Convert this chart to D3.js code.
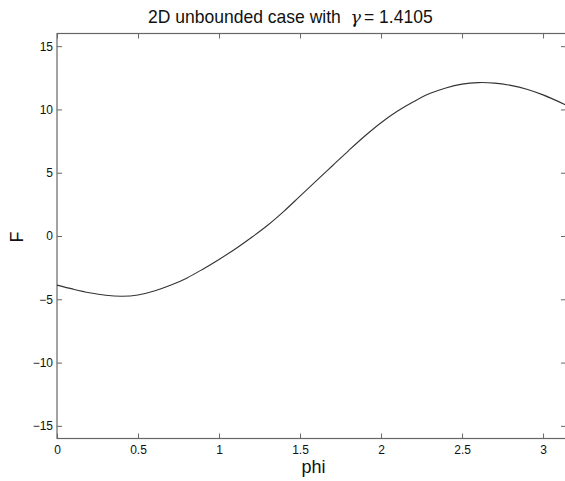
<!DOCTYPE html>
<html>
<head>
<meta charset="utf-8">
<script src="https://cdn.jsdelivr.net/npm/d3@7"></script>
<style>
  body { margin: 0; background: #fff; }
  text { font-family: "Liberation Sans", Arial, sans-serif; fill: #111; }
</style>
</head>
<body>
<div id="chart"></div>
<script>
// values
const phi = [0, 0.1, 0.2, 0.3, 0.4, 0.5, 0.6, 0.7, 0.8, 0.9, 1.0, 1.1, 1.2, 1.3, 1.4, 1.5,
             1.6, 1.7, 1.8, 1.9, 2.0, 2.1, 2.2, 2.3, 2.4, 2.5, 2.6, 2.7, 2.8, 2.9, 3.0, Math.PI]
const F = [-3.88, -4.2, -4.48, -4.68, -4.76, -4.66, -4.35, -3.9, -3.33, -2.62, -1.85, -1.03,
           -0.12, 0.85, 1.95, 3.15, 4.35, 5.55, 6.75, 7.9, 8.95, 9.85, 10.6, 11.25, 11.7,
           12.0, 12.12, 12.08, 11.9, 11.6, 11.15, 10.35]
const xTicks = [0, 0.5, 1, 1.5, 2, 2.5, 3]
const yTicks = [-15, -10, -5, 0, 5, 10, 15]

const width = 565, height = 481
const mLeft = 57, mRight = 566, mTop = 33.5, mBottom = 438.5

const svg = d3.select("#chart").append("svg")
    .attr("width", width)
    .attr("height", height)

const x = d3.scaleLinear().domain([0, Math.PI]).range([mLeft, mRight])
const y = d3.scaleLinear().domain([-16, 16]).range([mBottom, mTop])

const fmt = d => (d < 0 ? "\u2212" + Math.abs(d) : "" + d)

// ticks inward on all four sides, like matlab
svg.append("g")
    .attr("transform", `translate(0,${mBottom})`)
    .call(d3.axisBottom(x).tickValues(xTicks).tickSizeInner(-5).tickSizeOuter(0).tickPadding(7).tickFormat(fmt))
    .call(g => g.select(".domain").remove())
svg.append("g")
    .attr("transform", `translate(0,${mTop})`)
    .call(d3.axisTop(x).tickValues(xTicks).tickSizeInner(-5).tickSizeOuter(0).tickFormat(""))
    .call(g => g.select(".domain").remove())
svg.append("g")
    .attr("transform", `translate(${mLeft},0)`)
    .call(d3.axisLeft(y).tickValues(yTicks).tickSizeInner(-5).tickSizeOuter(0).tickPadding(4).tickFormat(fmt))
    .call(g => g.select(".domain").remove())
svg.append("g")
    .attr("transform", `translate(${mRight},0)`)
    .call(d3.axisRight(y).tickValues(yTicks).tickSizeInner(-5).tickSizeOuter(0).tickFormat(""))
    .call(g => g.select(".domain").remove())

svg.selectAll(".tick line").attr("stroke", "#666")
svg.selectAll(".tick text")
    .style("font-family", "Liberation Sans, Arial, sans-serif")
    .style("font-size", "12px")
    .attr("fill", "#111")

// frame
svg.append("rect")
    .attr("x", mLeft).attr("y", mTop)
    .attr("width", mRight - mLeft).attr("height", mBottom - mTop)
    .attr("fill", "none")
    .attr("stroke", "#666")
    .attr("stroke-width", 1.2)

const line = d3.line()
    .x((d, i) => x(phi[i]))
    .y(d => y(d))
    .curve(d3.curveCatmullRom)

svg.append("path")
    .datum(F)
    .attr("d", line)
    .attr("fill", "none")
    .attr("stroke", "#333")
    .attr("stroke-width", 1.1)

// title, sized so it spans about the same width as the original (148 -> 430)
const title = svg.append("text")
    .attr("x", 148).attr("y", 23)
    .attr("text-anchor", "start")
    .style("font-size", "17px")
    .attr("xml:space", "preserve")
title.append("tspan").text("2D unbounded case with  ")
title.append("tspan").style("font-family", "DejaVu Serif, serif").style("font-style", "italic").text("\u03b3")
title.append("tspan").attr("dx", 3).text("= 1.4105")
const tw = title.node().getComputedTextLength()
if (tw > 0) {
    const fs = Math.max(16, Math.min(19, 17 * 282 / tw))
    title.style("font-size", fs + "px")
}

svg.append("text")
    .attr("x", 313.5).attr("y", 473)
    .attr("text-anchor", "middle")
    .style("font-size", "18px")
    .text("phi")

svg.append("text")
    .attr("transform", "translate(23,237) rotate(-90)")
    .attr("text-anchor", "middle")
    .style("font-size", "18px")
    .text("F")
</script>
</body>
</html>
